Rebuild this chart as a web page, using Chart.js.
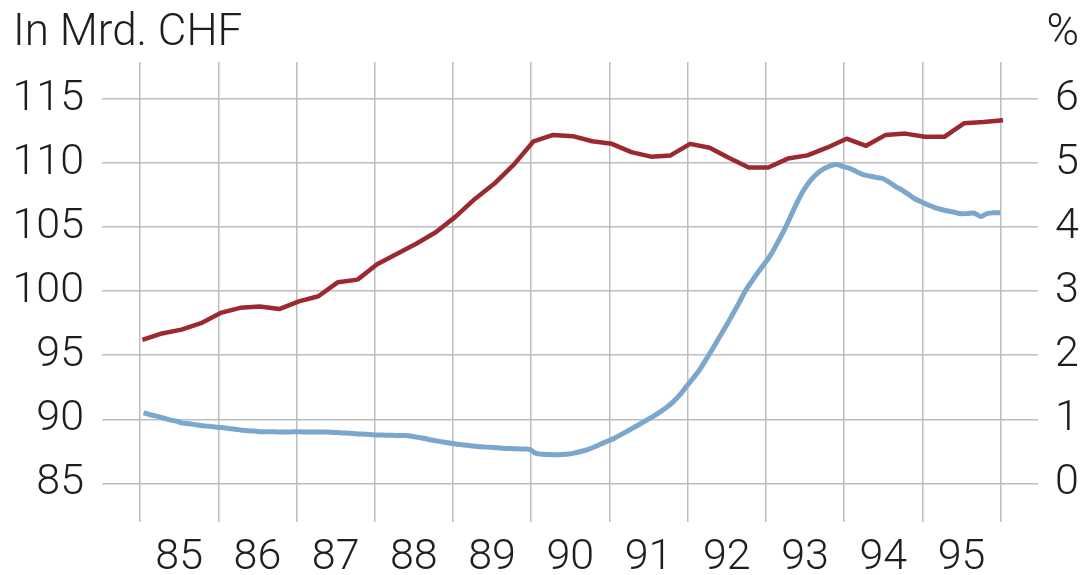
<!DOCTYPE html>
<html>
<head>
<meta charset="utf-8">
<title>In Mrd. CHF / %</title>
<script src="https://cdn.jsdelivr.net/npm/chart.js@4/dist/chart.umd.min.js"></script>
<style>
  html, body { margin: 0; padding: 0; background: #ffffff; }
  #wrap { width: 1090px; height: 575px; }
</style>
</head>
<body>
<div id="wrap"><canvas id="chart" width="1090" height="575"></canvas></div>
<script>
// Quarterly series in Mrd. CHF, 1985 Q1 to 1996 Q1 (left axis)
const firstYear = 1985;
const chfQuarterly = [
  96.2, 96.7, 97.0, 97.5, 98.3, 98.7, 98.8, 98.6, 99.2, 99.6,
  100.7, 100.9, 102.1, 102.9, 103.7, 104.6, 105.8, 107.2, 108.4, 109.9,
  111.7, 112.2, 112.1, 111.7, 111.5, 110.85, 110.5, 110.6, 111.5, 111.2,
  110.4, 109.65, 109.65, 110.35, 110.6, 111.2, 111.9, 111.35, 112.2, 112.3,
  112.05, 112.05, 113.1, 113.2, 113.35
];

// Monthly rate in %, Jan 1985 to Dec 1995 (right axis)
const ratePercent = [
  1.10, 1.07, 1.05, 1.02, 0.99, 0.97, 0.94, 0.93, 0.915, 0.90, 0.89, 0.88,
  0.87, 0.857, 0.845, 0.83, 0.82, 0.815, 0.805, 0.805, 0.805, 0.80, 0.80, 0.805,
  0.805, 0.80, 0.80, 0.80, 0.80, 0.795, 0.79, 0.784, 0.778, 0.771, 0.767, 0.76,
  0.754, 0.752, 0.749, 0.747, 0.745, 0.735, 0.717, 0.70, 0.676, 0.659, 0.642, 0.625,
  0.609, 0.598, 0.587, 0.574, 0.568, 0.562, 0.556, 0.548, 0.543, 0.539, 0.536, 0.531,
  0.467, 0.454, 0.448, 0.445, 0.448, 0.457, 0.476, 0.501, 0.531, 0.571, 0.618, 0.66,
  0.704, 0.76, 0.817, 0.873, 0.93, 0.99, 1.05, 1.116, 1.188, 1.272, 1.379, 1.511,
  1.636, 1.769, 1.931, 2.098, 2.272, 2.443, 2.625, 2.807, 2.998, 3.154, 3.299, 3.435,
  3.583, 3.767, 3.961, 4.18, 4.398, 4.587, 4.731, 4.837, 4.91, 4.957, 4.977, 4.946,
  4.915, 4.868, 4.821, 4.798, 4.777, 4.759, 4.704, 4.634, 4.579, 4.509, 4.439, 4.392,
  4.345, 4.306, 4.275, 4.251, 4.231, 4.209, 4.212, 4.22, 4.166, 4.212, 4.225, 4.225
];

// Axis ticks
const yearLabels = ['85', '86', '87', '88', '89', '90', '91', '92', '93', '94', '95'];
const chfTicks = [85, 90, 95, 100, 105, 110, 115];
const percentTicks = [0, 1, 2, 3, 4, 5, 6];

const leftTitle = 'In Mrd. CHF';
const rightTitle = '%';

// Time positions (fractional years) for each observation
const quarterPoints = chfQuarterly.map((v, i) => ({ x: firstYear + 0.03 + i / 4, y: v }));
const monthPoints = ratePercent.map((v, i) => ({ x: firstYear + 0.045 + i / 12 * 1.003, y: v }));

const FONT = { family: 'Roboto, "Liberation Sans", sans-serif', size: 43, weight: '300' };
const TEXT_COLOR = '#1e1e1e';
const GRID_COLOR = '#bdbdbd';

const xMin = 1984.514, xMax = 1996.477;

// Header texts above each value axis
const headerTexts = {
  id: 'headerTexts',
  afterDraw(chart) {
    const ctx = chart.ctx;
    ctx.save();
    ctx.fillStyle = TEXT_COLOR;
    ctx.font = `${FONT.weight} 44px ${FONT.family}`;
    ctx.textBaseline = 'alphabetic';
    ctx.textAlign = 'left';
    ctx.fillText(leftTitle, 13, 45);
    ctx.textAlign = 'right';
    ctx.fillText(rightTitle, 1079, 45);
    ctx.restore();
  }
};

new Chart(document.getElementById('chart'), {
  type: 'line',
  data: {
    datasets: [
      {
        label: 'Mrd. CHF',
        data: quarterPoints,
        xAxisID: 'x',
        yAxisID: 'y',
        borderColor: '#9b2a30',
        borderWidth: 4.5,
        pointRadius: 0,
        tension: 0,
        borderJoinStyle: 'round',
        order: 1
      },
      {
        label: '%',
        data: monthPoints,
        xAxisID: 'x',
        yAxisID: 'y1',
        borderColor: '#7ca7cd',
        borderWidth: 5,
        pointRadius: 0,
        tension: 0.3,
        borderJoinStyle: 'round',
        order: 2
      }
    ]
  },
  options: {
    responsive: false,
    animation: false,
    devicePixelRatio: 1,
    layout: { padding: { top: 62, left: 0, right: 0, bottom: 0 } },
    plugins: { legend: { display: false }, tooltip: { enabled: false } },
    scales: {
      x: {
        type: 'linear',
        position: 'bottom',
        min: xMin,
        max: xMax,
        afterBuildTicks: s => { s.ticks = yearLabels.concat(['96']).map((_, i) => ({ value: firstYear + i })); },
        afterFit: s => { s.height = 0; },
        ticks: { display: false },
        grid: { color: GRID_COLOR, lineWidth: 1.5, drawTicks: false },
        border: { display: false }
      },
      xLab: {
        type: 'linear',
        position: 'bottom',
        min: xMin,
        max: xMax,
        afterBuildTicks: s => { s.ticks = yearLabels.map((_, i) => ({ value: firstYear + 0.5 + i })); },
        afterFit: s => { s.height = 53; },
        ticks: {
          autoSkip: false,
          maxRotation: 0,
          padding: 10,
          color: TEXT_COLOR,
          font: FONT,
          callback: (v, i) => yearLabels[i]
        },
        grid: { display: false, drawTicks: false },
        border: { display: false }
      },
      y: {
        type: 'linear',
        position: 'left',
        min: 81.98,
        max: 117.89,
        afterBuildTicks: s => { s.ticks = chfTicks.map(v => ({ value: v })); },
        afterFit: s => { s.width = 102; },
        ticks: { padding: 18, color: TEXT_COLOR, font: FONT, autoSkip: false },
        grid: { color: GRID_COLOR, lineWidth: 1.5, drawTicks: false },
        border: { display: false }
      },
      y1: {
        type: 'linear',
        position: 'right',
        min: -0.604,
        max: 6.578,
        afterBuildTicks: s => { s.ticks = percentTicks.map(v => ({ value: v })); },
        afterFit: s => { s.width = 52; },
        ticks: { padding: 17, color: TEXT_COLOR, font: FONT, autoSkip: false },
        grid: { display: false, drawTicks: false },
        border: { display: false }
      }
    }
  },
  plugins: [headerTexts]
});
</script>
</body>
</html>
